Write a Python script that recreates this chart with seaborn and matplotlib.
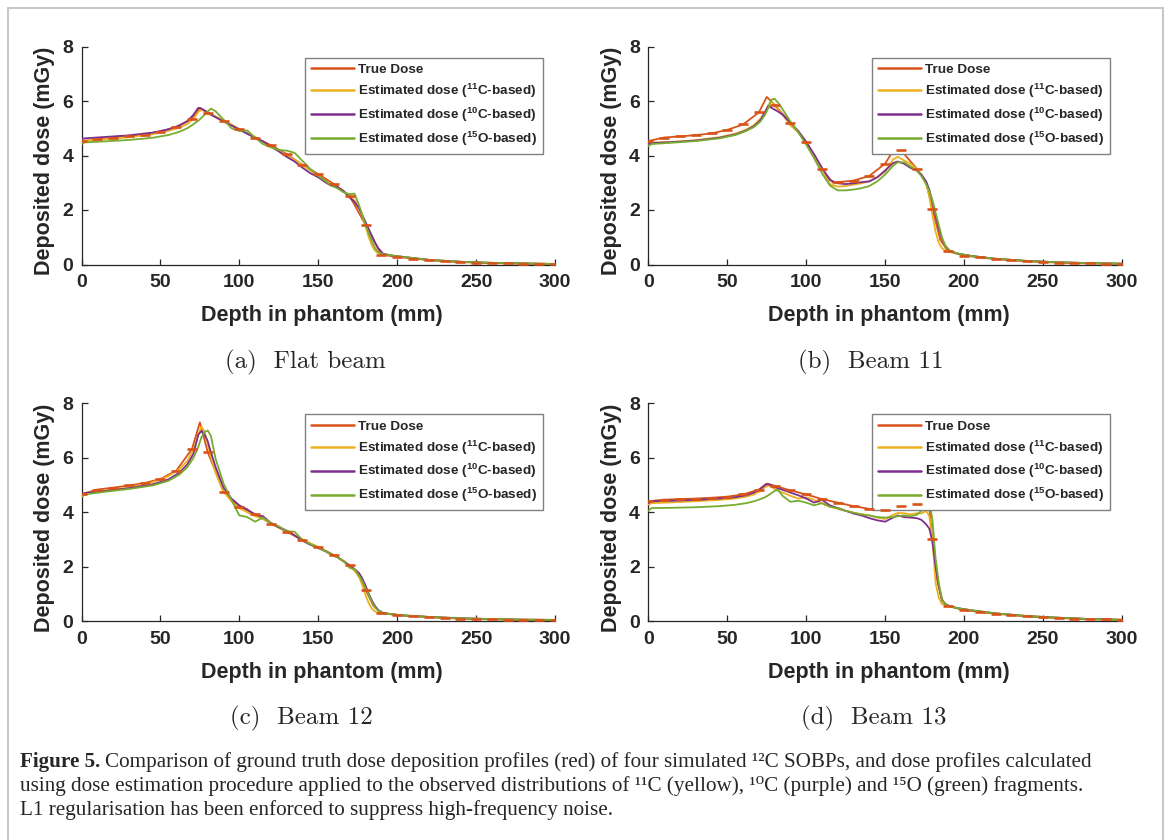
import numpy as np
import matplotlib
matplotlib.use("Agg")
import matplotlib.pyplot as plt
import seaborn as sns
from matplotlib.patches import Rectangle

sns.set_style("white")
plt.rcParams["font.family"] = ["Liberation Sans", "DejaVu Sans"]
plt.rcParams["mathtext.fontset"] = "custom"
plt.rcParams["mathtext.rm"] = "Liberation Sans"
plt.rcParams["mathtext.sf"] = "Liberation Sans:bold"

# ---------------- data ----------------
depth = [0, 2, 15, 30, 45, 55, 62, 67, 71, 74,
         76, 78, 80, 82, 85, 90, 95, 100, 105, 110,
         115, 120, 125, 130, 135, 140, 145, 150, 155, 158,
         162, 166, 170, 173, 176, 178, 180, 182, 184, 186,
         188, 191, 196, 205, 220, 240, 260, 280, 300]

# (a) Flat beam
red_a_x = [0, 10, 20, 30, 40, 50, 60, 70, 75, 80, 90, 100, 110, 120, 130, 140, 150, 160, 170,
           180, 190, 200, 210, 220, 230, 240, 250, 260, 270, 280, 290, 300]
red_a_y = [4.52, 4.60, 4.64, 4.70, 4.77, 4.88, 5.05, 5.35, 5.75, 5.57, 5.28, 4.97, 4.65, 4.38, 4.05,
           3.66, 3.32, 2.95, 2.50, 1.45, 0.36, 0.28, 0.22, 0.16, 0.12, 0.09, 0.07, 0.05, 0.04, 0.03,
           0.02, 0.02]
c11_a = [4.50, 4.55, 4.60, 4.67, 4.78, 4.90, 5.02, 5.15, 5.35, 5.60,
         5.68, 5.62, 5.55, 5.50, 5.42, 5.28, 5.12, 4.95, 4.82, 4.68,
         4.50, 4.32, 4.18, 4.00, 3.85, 3.65, 3.45, 3.25, 3.05, 2.95,
         2.85, 2.70, 2.50, 2.35, 2.05, 1.75, 1.40, 1.00, 0.70, 0.50,
         0.42, 0.38, 0.34, 0.27, 0.17, 0.10, 0.06, 0.04, 0.02]
c10_a = [4.60, 4.63, 4.68, 4.74, 4.84, 4.96, 5.10, 5.25, 5.50, 5.75,
         5.72, 5.65, 5.58, 5.50, 5.40, 5.25, 5.10, 4.95, 4.80, 4.65,
         4.52, 4.33, 4.15, 3.95, 3.78, 3.55, 3.35, 3.20, 3.00, 2.90,
         2.85, 2.70, 2.45, 2.30, 2.05, 1.80, 1.55, 1.30, 1.05, 0.80,
         0.60, 0.40, 0.33, 0.27, 0.17, 0.10, 0.06, 0.04, 0.02]
c15_a = [4.42, 4.48, 4.52, 4.57, 4.65, 4.75, 4.87, 5.00, 5.15, 5.28,
         5.38, 5.50, 5.62, 5.72, 5.62, 5.32, 5.00, 4.90, 4.92, 4.65,
         4.42, 4.30, 4.20, 4.18, 4.10, 3.80, 3.50, 3.25, 3.05, 2.90,
         2.80, 2.65, 2.58, 2.60, 2.15, 1.80, 1.45, 1.15, 0.85, 0.60,
         0.45, 0.38, 0.33, 0.27, 0.17, 0.10, 0.06, 0.04, 0.02]

# (b) Beam 11
red_b_x = [0, 10, 20, 30, 40, 50, 60, 70, 75, 80, 90, 100, 110, 117, 120, 130, 140, 150, 157, 160,
           170, 176, 180, 185, 190, 200, 210, 220, 230, 240, 250, 260, 270, 280, 290, 300]
red_b_y = [4.53, 4.66, 4.70, 4.75, 4.81, 4.94, 5.14, 5.58, 6.15, 5.86, 5.20, 4.50, 3.50, 3.00, 3.02,
           3.08, 3.25, 3.70, 4.35, 4.20, 3.52, 3.00, 2.05, 0.90, 0.48, 0.33, 0.26, 0.20, 0.16, 0.12,
           0.09, 0.07, 0.05, 0.04, 0.03, 0.02]
c11_b = [4.42, 4.47, 4.50, 4.56, 4.67, 4.80, 4.95, 5.12, 5.35, 5.60,
         5.85, 6.00, 5.80, 5.70, 5.50, 5.10, 4.85, 4.45, 4.00, 3.50,
         2.95, 2.86, 2.88, 2.93, 2.98, 3.05, 3.20, 3.40, 3.85, 3.95,
         3.82, 3.70, 3.50, 3.30, 3.00, 2.50, 1.80, 1.20, 0.80, 0.60,
         0.52, 0.47, 0.40, 0.31, 0.21, 0.13, 0.08, 0.05, 0.03]
c10_b = [4.42, 4.46, 4.49, 4.55, 4.65, 4.77, 4.92, 5.08, 5.30, 5.60,
         5.82, 5.75, 5.68, 5.62, 5.50, 5.20, 4.90, 4.50, 4.05, 3.55,
         3.10, 2.98, 2.95, 2.98, 3.02, 3.05, 3.20, 3.45, 3.72, 3.78,
         3.70, 3.55, 3.45, 3.30, 3.05, 2.75, 2.30, 1.80, 1.35, 0.95,
         0.70, 0.50, 0.40, 0.31, 0.21, 0.13, 0.08, 0.05, 0.03]
c15_b = [4.35, 4.42, 4.47, 4.53, 4.63, 4.75, 4.90, 5.05, 5.25, 5.50,
         5.75, 6.05, 6.08, 5.95, 5.70, 5.25, 4.85, 4.40, 3.90, 3.35,
         2.90, 2.72, 2.72, 2.75, 2.80, 2.88, 3.05, 3.30, 3.62, 3.75,
         3.75, 3.60, 3.45, 3.25, 2.95, 2.70, 2.35, 1.90, 1.45, 1.00,
         0.70, 0.50, 0.40, 0.31, 0.21, 0.13, 0.08, 0.05, 0.03]

# (c) Beam 12
red_c_x = [0, 10, 20, 30, 40, 50, 60, 70, 75, 80, 90, 100, 110, 120, 130, 140, 150, 160, 170, 175,
           180, 185, 190, 200, 210, 220, 230, 240, 250, 260, 270, 280, 290, 300]
red_c_y = [4.66, 4.83, 4.90, 4.98, 5.07, 5.22, 5.52, 6.32, 7.30, 6.20, 4.75, 4.20, 3.93, 3.58, 3.28,
           2.97, 2.72, 2.42, 2.05, 1.80, 1.15, 0.55, 0.30, 0.22, 0.18, 0.14, 0.11, 0.09, 0.07, 0.06,
           0.05, 0.04, 0.04, 0.03]
c11_c = [4.60, 4.70, 4.80, 4.90, 5.10, 5.32, 5.58, 5.88, 6.30, 6.85,
         7.15, 6.95, 6.50, 6.00, 5.45, 4.75, 4.40, 4.15, 4.00, 3.85,
         3.75, 3.60, 3.45, 3.30, 3.15, 3.00, 2.85, 2.70, 2.55, 2.45,
         2.35, 2.20, 2.00, 1.85, 1.60, 1.30, 0.95, 0.65, 0.45, 0.35,
         0.30, 0.28, 0.25, 0.20, 0.15, 0.10, 0.07, 0.05, 0.04]
c10_c = [4.62, 4.70, 4.78, 4.88, 5.02, 5.20, 5.45, 5.75, 6.15, 6.85,
         6.98, 6.85, 6.60, 6.20, 5.65, 4.90, 4.50, 4.25, 4.10, 3.90,
         3.85, 3.60, 3.45, 3.32, 3.15, 2.95, 2.80, 2.68, 2.55, 2.45,
         2.35, 2.20, 2.02, 1.90, 1.75, 1.55, 1.30, 1.00, 0.75, 0.55,
         0.40, 0.30, 0.25, 0.20, 0.15, 0.10, 0.07, 0.05, 0.04]
c15_c = [4.55, 4.65, 4.75, 4.85, 4.98, 5.15, 5.38, 5.65, 6.00, 6.40,
         6.75, 6.95, 7.00, 6.80, 5.95, 5.05, 4.45, 3.88, 3.82, 3.65,
         3.80, 3.60, 3.48, 3.30, 3.28, 2.98, 2.82, 2.70, 2.55, 2.45,
         2.35, 2.20, 1.95, 1.90, 1.65, 1.45, 1.20, 0.95, 0.70, 0.50,
         0.38, 0.30, 0.25, 0.20, 0.15, 0.10, 0.07, 0.05, 0.04]

# (d) Beam 13
red_d_x = [0, 10, 20, 30, 40, 50, 60, 70, 75, 80, 90, 100, 110, 120, 130, 140, 150, 160, 170, 176,
           178, 180, 183, 186, 190, 200, 210, 220, 230, 240, 250, 260, 270, 280, 290, 300]
red_d_y = [4.40, 4.46, 4.48, 4.50, 4.53, 4.57, 4.65, 4.83, 5.05, 4.97, 4.80, 4.65, 4.48, 4.35, 4.22,
           4.12, 4.08, 4.22, 4.29, 4.27, 4.15, 3.03, 1.50, 0.75, 0.55, 0.40, 0.33, 0.27, 0.22, 0.17,
           0.13, 0.11, 0.09, 0.07, 0.06, 0.05]
c11_d = [4.28, 4.33, 4.36, 4.40, 4.45, 4.50, 4.57, 4.65, 4.78, 4.92,
         4.97, 4.93, 4.85, 4.78, 4.72, 4.60, 4.50, 4.55, 4.45, 4.32,
         4.20, 4.12, 4.05, 3.98, 3.92, 3.88, 3.80, 3.75, 3.90, 3.97,
         3.96, 3.92, 3.96, 3.95, 4.05, 3.85, 3.00, 1.40, 0.85, 0.62,
         0.58, 0.53, 0.47, 0.39, 0.28, 0.18, 0.12, 0.07, 0.04]
c10_d = [4.33, 4.40, 4.42, 4.45, 4.50, 4.55, 4.62, 4.72, 4.85, 5.00,
         5.03, 4.98, 4.92, 4.88, 4.82, 4.72, 4.62, 4.50, 4.35, 4.45,
         4.25, 4.15, 4.05, 3.95, 3.88, 3.78, 3.70, 3.65, 3.80, 3.88,
         3.82, 3.80, 3.78, 3.72, 3.55, 3.40, 2.90, 2.00, 1.30, 0.80,
         0.62, 0.55, 0.47, 0.39, 0.28, 0.18, 0.12, 0.07, 0.04]
c15_d = [4.05, 4.15, 4.16, 4.18, 4.22, 4.27, 4.33, 4.40, 4.48, 4.55,
         4.62, 4.70, 4.78, 4.83, 4.60, 4.38, 4.42, 4.35, 4.25, 4.33,
         4.20, 4.15, 4.05, 3.98, 3.92, 3.88, 3.82, 3.80, 3.82, 3.85,
         3.88, 3.85, 3.90, 4.05, 4.30, 4.45, 3.70, 2.30, 1.40, 0.80,
         0.62, 0.55, 0.47, 0.39, 0.28, 0.18, 0.12, 0.07, 0.04]

series_labels = ["True Dose",
                 r"Estimated dose ($^{\mathsf{11}}$C-based)",
                 r"Estimated dose ($^{\mathsf{10}}$C-based)",
                 r"Estimated dose ($^{\mathsf{15}}$O-based)"]
subcaptions = ["(a)  Flat beam", "(b)  Beam 11", "(c)  Beam 12", "(d)  Beam 13"]
x_ticks = [0, 50, 100, 150, 200, 250, 300]
y_ticks = [0, 2, 4, 6, 8]

caption_bold = "Figure 5."
caption_lines = [
    "Comparison of ground truth dose deposition profiles (red) of four simulated ¹²C SOBPs, "
    "and dose profiles calculated",
    "using dose estimation procedure applied to the observed distributions of ¹¹C (yellow), "
    "¹⁰C (purple) and ¹⁵O (green) fragments.",
    "L1 regularisation has been enforced to suppress high-frequency noise.",
]

colors = ["#D95319", "#EDB120", "#7E2F8E", "#77AC30"]

panels = [
    (red_a_x, red_a_y, c11_a, c10_a, c15_a),
    (red_b_x, red_b_y, c11_b, c10_b, c15_b),
    (red_c_x, red_c_y, c11_c, c10_c, c15_c),
    (red_d_x, red_d_y, c11_d, c10_d, c15_d),
]

# ---------------- layout ----------------
W, H = 1170, 840
fig = plt.figure(figsize=(W / 100, H / 100), dpi=100)

def rect(x0, y_top, x1, y_bot):
    return [x0 / W, 1 - y_bot / H, (x1 - x0) / W, (y_bot - y_top) / H]

axes_rects = [rect(81.5, 46.5, 555, 264.5), rect(648.4, 46.5, 1121.8, 264.5),
              rect(81.5, 403.3, 555, 621), rect(648.4, 403.3, 1121.8, 621)]
sub_pos = [(305, 362), (871, 362), (301, 718), (874, 718)]

for i, (rx, ry, c11, c10, c15) in enumerate(panels):
    ax = fig.add_axes(axes_rects[i])
    ax.set_facecolor("white")
    lw = 1.3
    sns.lineplot(x=rx, y=ry, ax=ax, color=colors[0], linewidth=lw, label=series_labels[0], zorder=2)
    sns.lineplot(x=depth, y=c11, ax=ax, color=colors[1], linewidth=lw, label=series_labels[1], zorder=3)
    sns.lineplot(x=depth, y=c10, ax=ax, color=colors[2], linewidth=lw, label=series_labels[2], zorder=4)
    sns.lineplot(x=depth, y=c15, ax=ax, color=colors[3], linewidth=lw, label=series_labels[3], zorder=5)
    # horizontal bin markers on the true dose (10 mm bins)
    mx = [x for x in rx if x % 10 == 0]
    my = [y for x, y in zip(rx, ry) if x % 10 == 0]
    ax.plot(mx, my, ls="none", marker="_", ms=6.5, mew=1.9, color=colors[0], zorder=6)

    ax.set_xlim(0, 300)
    ax.set_ylim(0, 8)
    ax.set_xticks(x_ticks)
    ax.set_yticks(y_ticks)
    for s in ["top", "right"]:
        ax.spines[s].set_visible(False)
    for s in ["left", "bottom"]:
        ax.spines[s].set_color("#262626")
        ax.spines[s].set_linewidth(0.9)
    ax.tick_params(direction="in", length=4, width=0.9, color="#262626",
                   labelsize=14, left=True, bottom=True)
    ax.tick_params(axis="x", pad=7)
    ax.tick_params(axis="y", pad=6)
    for lab in ax.get_xticklabels() + ax.get_yticklabels():
        lab.set_fontweight("bold")
    ax.set_xlabel("Depth in phantom (mm)", fontsize=15.5, fontweight="bold", va="center")
    ax.set_ylabel("Deposited dose (mGy)", fontsize=15.5, fontweight="bold", va="center")
    ax.xaxis.set_label_coords(0.507, -51.5 / 218)
    ax.yaxis.set_label_coords(-36.5 / 473.5, 0.475)

    leg = ax.legend(loc="upper right", bbox_to_anchor=(1 - 12 / 473.5, 1 - 11 / 218),
                    borderaxespad=0, frameon=True, fancybox=False, framealpha=1,
                    edgecolor="#808080", prop={"family": "Liberation Sans", "weight": "bold",
                                               "size": 9.7},
                    handlelength=3.2, handletextpad=0.3, labelspacing=0.42, borderpad=0.45)
    leg.get_frame().set_linewidth(1.0)
    for h in leg.get_lines():
        h.set_linewidth(1.8)

    sx, sy = sub_pos[i]
    fig.text(sx / W, 1 - sy / H, subcaptions[i], family="cmr10", fontsize=18,
             ha="center", va="center")

# ---------------- caption ----------------
cap_font = ["Liberation Serif", "DejaVu Serif"]
cap_size = 15.2
renderer = fig.canvas.get_renderer()
tb = fig.text(20 / W, 1 - 767 / H, caption_bold, family=cap_font, fontsize=cap_size,
              fontweight="bold", ha="left", va="baseline")
bb = tb.get_window_extent(renderer)
fig.text((bb.x1 + 5) / W, 1 - 767 / H, caption_lines[0], family=cap_font, fontsize=cap_size,
         ha="left", va="baseline")
for k in (1, 2):
    fig.text(20 / W, 1 - (767 + 24 * k) / H, caption_lines[k], family=cap_font,
             fontsize=cap_size, ha="left", va="baseline")

fig.add_artist(Rectangle((8 / W, -0.05), (1163 - 8) / W, 1.05 - 8 / H,
                         transform=fig.transFigure, fill=False,
                         edgecolor="#c8c8c8", linewidth=1.5))

fig.savefig("out.png", dpi=100)
